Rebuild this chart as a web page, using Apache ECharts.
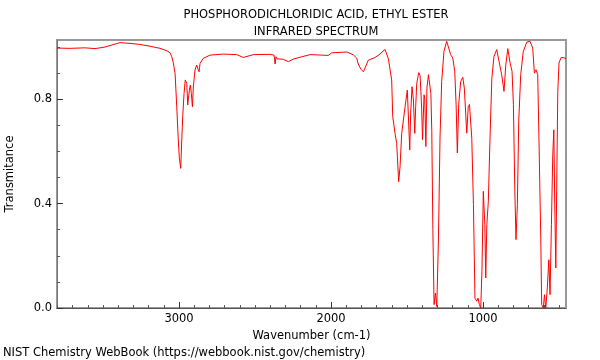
<!DOCTYPE html>
<html><head><meta charset="utf-8">
<script src="https://cdn.jsdelivr.net/npm/echarts@6/dist/echarts.min.js"></script>
<style>html,body{margin:0;padding:0;background:#fff}#c{width:600px;height:360px}</style>
</head><body><div id="c"></div>
<script>
const titleLines = ["PHOSPHORODICHLORIDIC ACID, ETHYL ESTER", "INFRARED SPECTRUM"];
const xLabelValues = [1000, 2000, 3000];
const yLabelValues = [0.0, 0.4, 0.8];
const wavenumbers = [3803,3717,3618,3553,3487,3388,3322,3257,3191,3125,3081,3059,3048,3038,3026,3015,3005,2998,2989,2982,2976,2967,2959,2949,2943,2932,2926,2919,2912,2906,2895,2884,2875,2868,2862,2840,2796,2709,2620,2577,2511,2401,2375,2368,2362,2355,2336,2314,2281,2248,2138,2018,1995,1897,1875,1853,1831,1821,1803,1787,1765,1754,1711,1678,1645,1623,1601,1594,1579,1568,1555,1546,1535,1513,1498,1489,1482,1476,1467,1458,1449,1443,1436,1423,1414,1404,1398,1388,1383,1376,1369,1359,1353,1343,1337,1330,1322,1313,1304,1293,1283,1272,1257,1239,1228,1213,1199,1186,1177,1169,1160,1147,1133,1123,1107,1097,1089,1074,1063,1053,1041,1033,1024,1015,1007,998,988,982,975,965,954,942,928,910,899,877,862,850,837,822,809,800,791,783,774,765,752,735,712,691,673,662,651,640,632,620,614,603,596,587,577,567,559,550,541,534,528,521,514,508,500,486,471,454];
const transmittance = [0.996,0.995,0.997,0.994,1.000,1.017,1.014,1.010,1.003,0.995,0.986,0.978,0.963,0.940,0.899,0.771,0.644,0.574,0.535,0.644,0.733,0.822,0.874,0.861,0.778,0.835,0.854,0.822,0.771,0.848,0.912,0.931,0.915,0.905,0.937,0.957,0.969,0.973,0.971,0.960,0.971,0.972,0.969,0.935,0.963,0.955,0.954,0.953,0.944,0.954,0.971,0.968,0.978,0.981,0.976,0.970,0.958,0.935,0.915,0.905,0.935,0.950,0.960,0.973,0.991,0.956,0.874,0.733,0.669,0.631,0.484,0.541,0.669,0.771,0.835,0.829,0.605,0.746,0.848,0.797,0.669,0.771,0.861,0.902,0.890,0.770,0.645,0.817,0.800,0.619,0.843,0.894,0.889,0.822,0.677,0.300,0.013,0.057,0.006,0.268,0.651,0.868,0.983,1.022,1.019,0.971,0.958,0.907,0.779,0.594,0.779,0.868,0.884,0.843,0.670,0.772,0.780,0.651,0.396,0.038,0.026,0.038,0.013,0.000,0.141,0.447,0.319,0.115,0.319,0.409,0.651,0.880,0.964,0.990,0.983,0.894,0.830,0.932,0.994,0.939,0.907,0.779,0.460,0.262,0.396,0.715,0.894,0.983,1.019,1.022,0.996,0.900,0.913,0.894,0.651,0.268,0.013,0.000,0.051,0.000,0.077,0.185,0.051,0.319,0.587,0.683,0.396,0.153,0.524,0.830,0.939,0.960,0.960,0.955];

const xMin = 454, xMax = 3803, yMin = 0, yMax = 1.027;
const xMinor = []; for (let v = 500; v <= 3800; v += 100) xMinor.push(v);
const yMinor = []; for (let i = 0; i <= 10; i++) yMinor.push(+(i / 10).toFixed(1));

const pts = wavenumbers.map((w, i) => [w, transmittance[i]]);
const font = 'DejaVu Sans';
const fs = 11.5;
const chart = echarts.init(document.getElementById('c'), null, {renderer: 'canvas'});
const grid = {left: 57, right: 34, top: 40, bottom: 52, containLabel: false, outerBoundsMode: 'none',
  show: true, borderColor: '#999', borderWidth: 2, backgroundColor: 'transparent'};
chart.setOption({
  animation: false,
  textStyle: {fontFamily: font},
  title: [
    {text: titleLines[0], left: 311, top: 4, textAlign: 'center', textStyle: {fontSize: fs, fontWeight: 'normal', color: '#000', fontFamily: font}},
    {text: titleLines[1], left: 311, top: 21, textAlign: 'center', textStyle: {fontSize: fs, fontWeight: 'normal', color: '#000', fontFamily: font}}
  ],
  grid: grid,
  xAxis: [
    {type: 'value', inverse: true, min: xMin, max: xMax, position: 'bottom',
     name: 'Wavenumber (cm-1)', nameLocation: 'middle', nameGap: 18,
     nameTextStyle: {fontSize: fs, color: '#000', fontFamily: font},
     axisLine: {lineStyle: {color: '#555', width: 1}},
     axisTick: {show: true, inside: true, length: 3, customValues: xMinor, lineStyle: {color: '#555'}},
     axisLabel: {customValues: xLabelValues, formatter: v => String(v), fontSize: fs, color: '#000', margin: 5, fontFamily: font},
     splitLine: {show: false}},
    {type: 'value', inverse: true, min: xMin, max: xMax, position: 'bottom',
     axisLine: {show: false},
     axisTick: {show: true, inside: true, length: 6, customValues: xLabelValues, lineStyle: {color: '#333'}},
     axisLabel: {show: false}, splitLine: {show: false}}
  ],
  yAxis: [
    {type: 'value', min: yMin, max: yMax, position: 'left',
     name: 'Transmitance', nameLocation: 'middle', nameGap: 41,
     nameTextStyle: {fontSize: fs, color: '#000', fontFamily: font},
     axisLine: {show: true, lineStyle: {color: '#777', width: 1}},
     axisTick: {show: true, inside: true, length: 3, customValues: yMinor, lineStyle: {color: '#555'}},
     axisLabel: {customValues: yLabelValues, formatter: v => v.toFixed(1), fontSize: fs, color: '#000', margin: 5, fontFamily: font},
     splitLine: {show: false}},
    {type: 'value', min: yMin, max: yMax, position: 'left',
     axisLine: {show: false},
     axisTick: {show: true, inside: true, length: 6, customValues: yLabelValues, lineStyle: {color: '#333'}},
     axisLabel: {show: false}, splitLine: {show: false}}
  ],
  graphic: [
    {type: 'text', left: 3, top: 347, style: {text: 'NIST Chemistry WebBook (https://webbook.nist.gov/chemistry)', fontSize: fs, fill: '#000', fontFamily: font}}
  ],
  series: [
    {type: 'line', data: pts, xAxisIndex: 0, yAxisIndex: 0, showSymbol: false, symbol: 'none',
     lineStyle: {color: '#ff0000', width: 1}, clip: true, smooth: false}
  ]
});
</script></body></html>
